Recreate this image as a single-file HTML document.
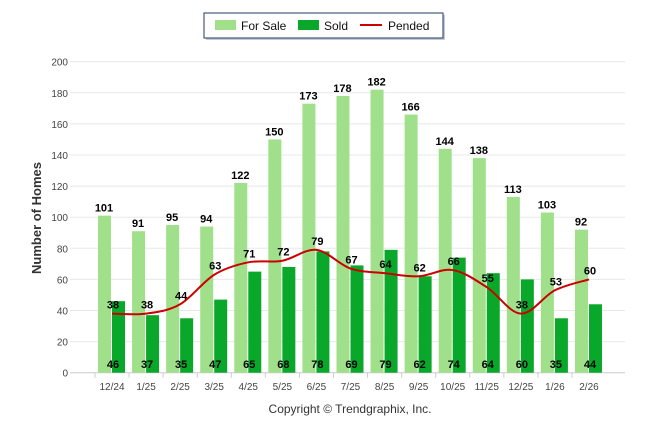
<!DOCTYPE html>
<html><head><meta charset="utf-8"><style>
body{margin:0;background:#fff;width:646px;height:434px;overflow:hidden;font-family:"Liberation Sans",sans-serif}
</style></head><body>
<svg id="c" width="646" height="434" xmlns="http://www.w3.org/2000/svg" font-family="Liberation Sans, sans-serif">
<g>
<rect x="206" y="15" width="239" height="25" fill="#8899aa" opacity="0.5"/>
<rect x="204" y="13" width="239" height="25" fill="#fff" stroke="#1f3864" stroke-width="1"/>
<rect x="215" y="20" width="21" height="10" fill="#a0e08a"/>
<text x="241" y="30" font-size="12" fill="#111">For Sale</text>
<rect x="298" y="20" width="21" height="10" fill="#0aa82a"/>
<text x="324" y="30" font-size="12" fill="#111">Sold</text>
<line x1="360" y1="25" x2="382" y2="25" stroke="#cc0000" stroke-width="2"/>
<text x="388" y="30" font-size="12" fill="#111">Pended</text>
</g>
<g id="grid"></g><g id="bars"></g><g id="line"></g><g id="labels"></g>
<text transform="translate(41,218) rotate(-90)" text-anchor="middle" font-size="13" font-weight="bold" fill="#333">Number of Homes</text>
<text x="350" y="413" text-anchor="middle" font-size="12" fill="#333">Copyright © Trendgraphix, Inc.</text>
</svg>
<script>
const categories=["12/24","1/25","2/25","3/25","4/25","5/25","6/25","7/25","8/25","9/25","10/25","11/25","12/25","1/26","2/26"];
const forSale=[101,91,95,94,122,150,173,178,182,166,144,138,113,103,92];
const sold=[46,37,35,47,65,68,78,69,79,62,74,64,60,35,44];
const pended=[38,38,44,63,71,72,79,67,64,62,66,55,38,53,60];
const yTicks=[0,20,40,60,80,100,120,140,160,180,200];
const NS="http://www.w3.org/2000/svg";
const y0=372.7,yTop=61.7,x0=112,dx=34.07;
const y=v=>y0-(v/200)*(y0-yTop);
const x=i=>x0+i*dx;
function mk(p,t,a){const e=document.createElementNS(NS,t);for(const k in a)e.setAttribute(k,a[k]);p.appendChild(e);return e;}
const g=document.getElementById('grid'),b=document.getElementById('bars'),l=document.getElementById('line'),lb=document.getElementById('labels');
yTicks.forEach(v=>{
 const ln=mk(g,'line',{x1:70,x2:625,y1:y(v),y2:y(v),stroke:v===0?'#ccc':'#e8e8e8','stroke-width':1});
 
 
 const t=mk(g,'text',{x:68,y:y(v)+4,'text-anchor':'end','font-size':10,fill:'#444'});t.textContent=v;
 
 
});
categories.forEach((c,i)=>{
 const tk=mk(g,'line',{x1:x(i)-17,x2:x(i)-17,y1:y0,y2:y0+5,stroke:'#ccc'});
 
 
 const t=mk(g,'text',{x:x(i),y:390,'text-anchor':'middle','font-size':10,fill:'#444'});t.textContent=c;
 
 
 const r1=mk(b,'rect',{x:x(i)-14,y:y(forSale[i]),width:13,height:y0-y(forSale[i]),fill:'#a0e08a'});
 
 
 const r2=mk(b,'rect',{x:x(i),y:y(sold[i]),width:13,height:y0-y(sold[i]),fill:'#0aa82a'});
 
 
 const t1=mk(lb,'text',{x:x(i)-8,y:y(forSale[i])-4,'text-anchor':'middle','font-size':11,'font-weight':'bold',fill:'#000'});t1.textContent=forSale[i];
 
 
 const t2=mk(lb,'text',{x:x(i)+1,y:368,'text-anchor':'middle','font-size':11,'font-weight':'bold',fill:'#000'});t2.textContent=sold[i];
 
 
 const t3=mk(lb,'text',{x:x(i)+1,y:y(pended[i])-5,'text-anchor':'middle','font-size':11,'font-weight':'bold',fill:'#000'});t3.textContent=pended[i];
 
 
});
const pts=pended.map((v,i)=>[x(i),y(v)]);
let d='M'+pts[0][0]+','+pts[0][1];
for(let i=0;i<pts.length-1;i++){
 const p0=pts[Math.max(0,i-1)],p1=pts[i],p2=pts[i+1],p3=pts[Math.min(pts.length-1,i+2)];
 const c1=[p1[0]+(p2[0]-p0[0])/6,p1[1]+(p2[1]-p0[1])/6],c2=[p2[0]-(p3[0]-p1[0])/6,p2[1]-(p3[1]-p1[1])/6];
 d+=` C${c1[0]},${c1[1]} ${c2[0]},${c2[1]} ${p2[0]},${p2[1]}`;
}
const pl=mk(l,'path',{d:d,fill:'none',stroke:'#cc0000','stroke-width':2});


</script>
</body></html>
